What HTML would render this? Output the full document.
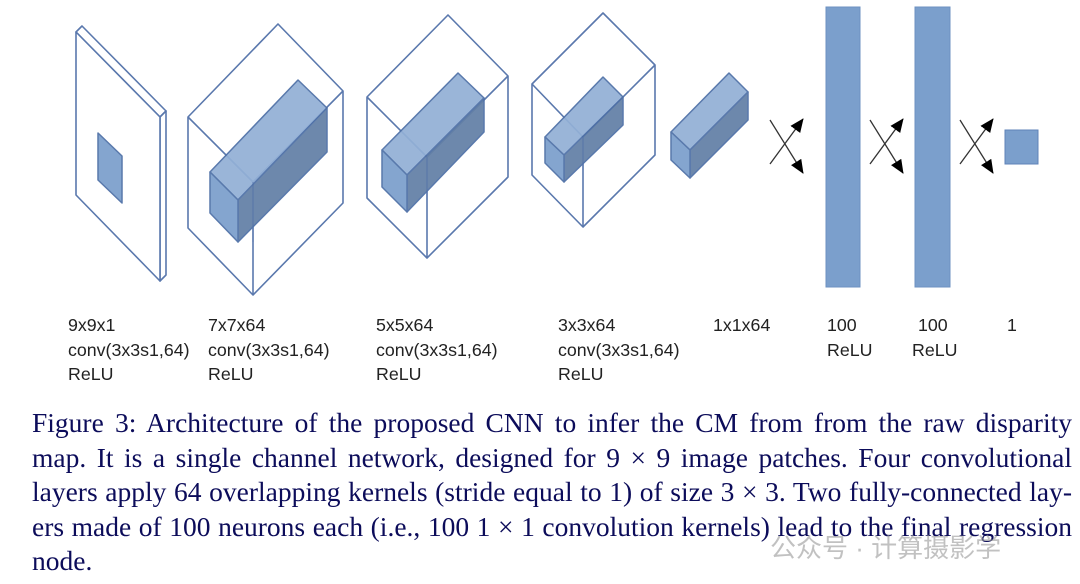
<!DOCTYPE html>
<html><head><meta charset="utf-8"><style>
html,body{margin:0;padding:0;background:#fff;width:1080px;height:584px;overflow:hidden;position:relative}
.l{position:absolute;font-family:"Liberation Sans",sans-serif;font-size:17.8px;color:#222;line-height:24.5px;white-space:nowrap}
.c{position:absolute;left:32px;width:1040px;font-family:"Liberation Serif",serif;font-size:27.5px;color:#0c0c5a;text-align:justify;text-align-last:justify;white-space:nowrap;line-height:30px}
</style></head><body>
<svg width="1080" height="300" style="position:absolute;left:0;top:0" xmlns="http://www.w3.org/2000/svg">
<defs>
<marker id="ah" markerWidth="14" markerHeight="12" refX="13" refY="6" orient="auto" markerUnits="userSpaceOnUse" viewBox="0 0 14 12"><path d="M0,0 L14,6 L0,12 z" fill="#000"/></marker>
</defs>
<g fill="none" stroke="#5a78ad" stroke-width="1.6" stroke-linejoin="round">
<polygon points="76,32 82,26 166,111 160,117" fill="#fff"/>
<polygon points="160,117 166,111 166,275 160,281" fill="#fff"/>
<polygon points="76,32 160,117 160,281 76,195" fill="#fff"/>
<polygon points="278,24 188,117 188,228 253,295 343,203 343,91"/>
<polyline points="188,117 253,182 343,91"/><line x1="253" y1="182" x2="253" y2="295"/>
<polygon points="448,15 367,97 367,198 427,258 508,177 508,76"/>
<polyline points="367,97 427,157 508,76"/><line x1="427" y1="157" x2="427" y2="258"/>
<polygon points="603,13 532,84 532,175 583,227 655,155 655,65"/>
<polyline points="532,84 583,137 655,65"/><line x1="583" y1="137" x2="583" y2="227"/>
</g>
<g stroke="#4d6fa6" stroke-width="1.5" stroke-linejoin="round" opacity="0.93">
<polygon points="98,133 122,156 122,203 98,180" fill="#7b9fcc"/>
<polygon points="210,172 298,80 327,108 238,200" fill="#93b0d6"/>
<polygon points="238,200 327,108 327,152 238,242" fill="#6380a6"/>
<polygon points="210,172 238,200 238,242 210,213" fill="#7b9fcc"/>
<polygon points="382,150 458,73 484,98 407,175" fill="#93b0d6"/>
<polygon points="407,175 484,98 484,132 407,212" fill="#6380a6"/>
<polygon points="382,150 407,175 407,212 382,187" fill="#7b9fcc"/>
<polygon points="545,137 603,77 623,97 564,155" fill="#93b0d6"/>
<polygon points="564,155 623,97 623,125 564,182" fill="#6380a6"/>
<polygon points="545,137 564,155 564,182 545,163" fill="#7b9fcc"/>
<polygon points="671,132 729,73 748,92 690,150" fill="#93b0d6"/>
<polygon points="690,150 748,92 748,120 690,178" fill="#6380a6"/>
<polygon points="671,132 690,150 690,178 671,160" fill="#7b9fcc"/>
</g>
<g stroke="#5a78ad" stroke-width="1.3" opacity="0.6">
<line x1="253" y1="182" x2="253" y2="242"/><line x1="427" y1="157" x2="427" y2="200"/><line x1="583" y1="137" x2="583" y2="170"/>
</g>
<rect x="826" y="7" width="34" height="280" fill="#7b9fcc" stroke="#6d90c2" stroke-width="1"/>
<rect x="915" y="7" width="35" height="280" fill="#7b9fcc" stroke="#6d90c2" stroke-width="1"/>
<rect x="1005" y="130" width="33" height="34" fill="#7b9fcc" stroke="#5f83b8" stroke-width="1"/>
<g stroke="#333" stroke-width="1.3" marker-end="url(#ah)">
<line x1="770" y1="120" x2="803" y2="173"/><line x1="770" y1="164" x2="803" y2="119"/>
<line x1="870" y1="120" x2="903" y2="173"/><line x1="870" y1="164" x2="903" y2="119"/>
<line x1="960" y1="120" x2="993" y2="173"/><line x1="960" y1="164" x2="993" y2="119"/>
</g>
</svg>
<div class="l" style="left:68px;top:313px">9x9x1<br>conv(3x3s1,64)<br>ReLU</div>
<div class="l" style="left:208px;top:313px">7x7x64<br>conv(3x3s1,64)<br>ReLU</div>
<div class="l" style="left:376px;top:313px">5x5x64<br>conv(3x3s1,64)<br>ReLU</div>
<div class="l" style="left:558px;top:313px">3x3x64<br>conv(3x3s1,64)<br>ReLU</div>
<div class="l" style="left:713px;top:313px">1x1x64</div>
<div class="l" style="left:827px;top:313px">100<br>ReLU</div>
<div class="l" style="left:918px;top:313px">100</div>
<div class="l" style="left:912px;top:338px">ReLU</div>
<div class="l" style="left:1007px;top:313px">1</div>
<div class="c" style="top:408px">Figure 3: Architecture of the proposed CNN to infer the CM from from the raw disparity</div>
<div class="c" style="top:443px">map. It is a single channel network, designed for 9 × 9 image patches. Four convolutional</div>
<div class="c" style="top:477px">layers apply 64 overlapping kernels (stride equal to 1) of size 3 × 3. Two fully-connected lay-</div>
<div class="c" style="top:512px">ers made of 100 neurons each (i.e., 100 1 × 1 convolution kernels) lead to the final regression</div>
<div class="c" style="top:546px;text-align:left;text-align-last:left">node.</div>
<div style="position:absolute;left:770px;top:528px;font-family:'Liberation Sans','Noto Sans CJK SC',sans-serif;font-size:26px;color:#999;opacity:0.6;white-space:nowrap">公众号 · 计算摄影学</div>
</body></html>
